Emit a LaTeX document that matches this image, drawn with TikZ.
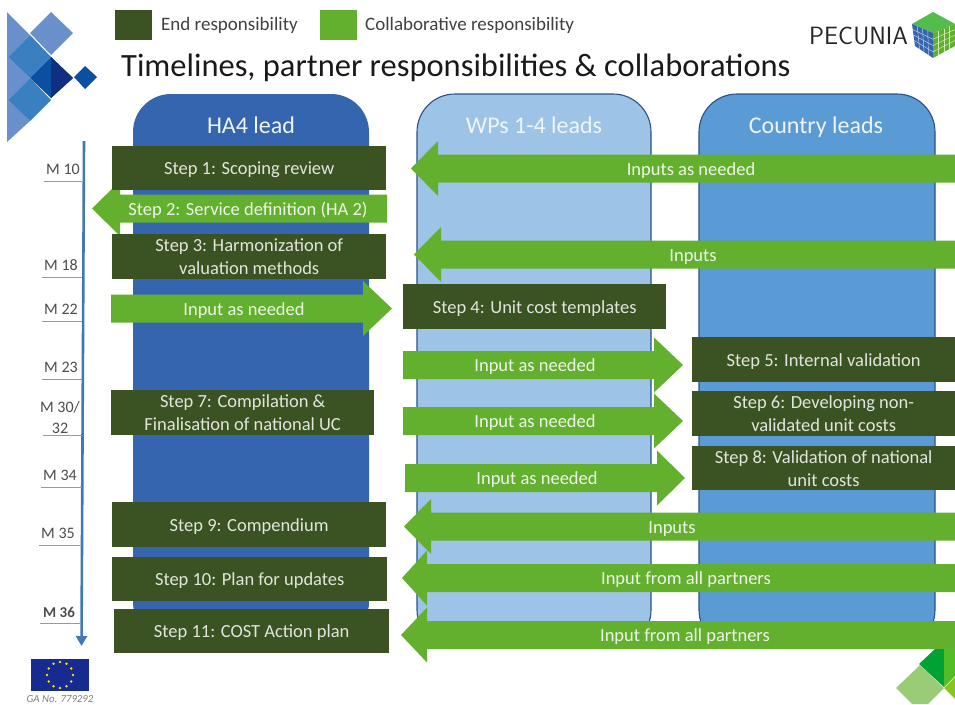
\documentclass[tikz,border=0pt]{standalone}
\usepackage{fontspec}
\setmainfont{Carlito}
\usetikzlibrary{arrows.meta,calc}
\definecolor{endg}{HTML}{3B5323}
\definecolor{colg}{HTML}{63B02E}
\definecolor{hablue}{HTML}{3465AE}
\definecolor{wpblue}{HTML}{9DC3E6}
\definecolor{cblue}{HTML}{5B9BD5}
\definecolor{tl}{HTML}{3F78B2}
\definecolor{lg1}{HTML}{6A90CC}
\definecolor{lg2}{HTML}{3A80C0}
\definecolor{lg3}{HTML}{0A4FA0}
\definecolor{lg4}{HTML}{102F80}
\tikzset{
 stepbox/.style={fill=endg,text=white!85!endg,font=\fontsize{18.5}{23}\selectfont,align=center,inner sep=0pt,anchor=north west},
 oneline/.style={text height=13pt,text depth=0pt},
 coltext/.style={text=white!90!colg,font=\fontsize{18.5}{22}\selectfont,inner sep=0pt,oneline},
 colhead/.style={text=white!90!cblue,font=\fontsize{24}{28}\selectfont,inner sep=0pt,text height=16pt,text depth=0pt},
 collab/.style={fill=colg},
 mlabel/.style={text=black!70,font=\fontsize{16}{21}\selectfont,inner sep=0pt,align=center},
 tick/.style={draw=tl!70,line width=1pt},
 legtext/.style={anchor=west,inner sep=0pt,text=black!75,font=\fontsize{19}{22}\selectfont},
}
% \stepb[opts]{name}{x1}{x2}{y1}{y2}{text}
\newcommand\stepb[7][]{\pgfmathsetmacro\boxw{#4-#3}\pgfmathsetmacro\boxh{#6-#5}%
 \node[stepbox,#1,minimum width=\boxw pt,minimum height=\boxh pt] (#2) at (#3,#5) {#7};}
% \larrow{name}{tip}{base}{right}{yc}{textx}{text}
\newcommand\larrow[7]{\fill[collab] (#2,#5) -- (#3,#5-27.5) -- (#3,#5-14) -- (#4,#5-14) -- (#4,#5+14) -- (#3,#5+14) -- (#3,#5+27.5) -- cycle;
 \node[coltext] (#1) at (#6,#5) {#7};}
% \rarrow{name}{left}{base}{tip}{yc}{textx}{text}
\newcommand\rarrow[7]{\fill[collab] (#4,#5) -- (#3,#5-27.5) -- (#3,#5-14) -- (#2,#5-14) -- (#2,#5+14) -- (#3,#5+14) -- (#3,#5+27.5) -- cycle;
 \node[coltext] (#1) at (#6,#5) {#7};}
\newcommand\mtick[4]{\node[mlabel,anchor=base] (#1) at (#2,#3) {#4};
 \coordinate (#1a) at (#2-19,#3+7); \coordinate (#1b) at (82,#3+7); \draw[tick] (#1a) -- (#1b);}
\begin{document}
\begin{tikzpicture}[x=1pt,y=-1pt]
\useasboundingbox (0,0) rectangle (955,704);
% corner logo
\fill[lg1] (7,12) -- (30,35) -- (8,57) -- (30,78) -- (8,100) -- (30,121) -- (7,142) -- cycle;
\fill[lg1] (30,33) -- (51,12) -- (73,33) -- (51,55) -- cycle;
\fill[lg2] (8,57) -- (30,35) -- (51,57) -- (30,78) -- cycle;
\fill[lg2] (8,100) -- (30,78) -- (51,100) -- (30,121) -- cycle;
\fill[lg3] (30,78) -- (51,57) -- (73,78) -- (51,98) -- cycle;
\fill[lg4] (51,57) -- (73,78) -- (51,98) -- cycle;
\fill[lg3] (74,77) -- (85,66) -- (97,77) -- (85,89) -- cycle;
% legend
\node[fill=endg,minimum width=37pt,minimum height=30pt,inner sep=0pt] (lege) at (133.5,25) {};
\node[legtext] (legetext) at (161,25) {End responsibility};
\node[fill=colg,minimum width=37pt,minimum height=30pt,inner sep=0pt] (legc) at (338,25) {};
\node[legtext] (legctext) at (365,25) {Collaborative responsibility};
% title
\node[anchor=west,inner sep=0pt,text=black!90,font=\fontsize{32.5}{36}\selectfont] (title) at (121,68) {Timelines, partner responsibilities \& collaborations};
% pecunia
\node[anchor=west,inner sep=0pt,text=black!85,font=\sffamily\fontsize{25}{30}\selectfont] (pec) at (809,36) {PECUNIA};
\fill[colg!85!cyan] (912,24) -- (933,12) -- (955,24) -- (933,33) -- cycle;
\fill[hablue] (912,24) -- (933,33) -- (933,58) -- (915,46) -- cycle;
\fill[colg] (933,33) -- (955,24) -- (955,46) -- (933,58) -- cycle;
\foreach \t in {0.25,0.5,0.75}{
 \draw[white!70!colg,line width=.5pt] ($(933,33)!\t!(955,24)$) -- ($(933,58)!\t!(955,46)$);
 \draw[white!70!colg,line width=.5pt] ($(933,33)!\t!(933,58)$) -- ($(955,24)!\t!(955,46)$);
 \draw[white!70!hablue,line width=.5pt] ($(912,24)!\t!(933,33)$) -- ($(915,46)!\t!(933,58)$);
 \draw[white!70!hablue,line width=.5pt] ($(933,33)!\t!(933,58)$) -- ($(912,24)!\t!(915,46)$);
}
% columns
\fill[hablue,rounded corners=38pt] (133,94) rectangle (369,640);
\draw[hablue!80!black,fill=wpblue,rounded corners=38pt,line width=1.1pt] (417,94) rectangle (651,648);
\draw[hablue!80!black,fill=cblue,rounded corners=38pt,line width=1.1pt] (699,94) rectangle (935,648);
\node[colhead] (h1) at (251,125) {HA4 lead};
\node[colhead] (h2) at (534,125) {WPs 1-4 leads};
\node[colhead] (h3) at (816,125) {Country leads};
% timeline
\coordinate (ts) at (84,141); \coordinate (te) at (81.5,646);
\draw[tl,line width=2.6pt,-{Triangle[length=10pt,width=11pt]}] (ts) -- (te);
\mtick{m10}{63}{174}{M 10}
\mtick{m18}{61}{270}{M 18}
\mtick{m22}{61}{314}{M 22}
\mtick{m23}{61}{372}{M 23}
\node[mlabel] (m30) at (60,417) {M 30/\\32};
\coordinate (m30a) at (43,435); \coordinate (m30b) at (82,435); \draw[tick] (m30a) -- (m30b);
\mtick{m34}{60}{480}{M 34}
\mtick{m35}{58}{538}{M 35}
\node[mlabel,anchor=base,font=\bfseries\fontsize{15}{18}\selectfont] (m36) at (59,617) {M 36};
\coordinate (m36a) at (40,623); \coordinate (m36b) at (80,623); \draw[tick] (m36a) -- (m36b);
% arrows
\larrow{a1}{411}{438}{955}{168.5}{691}{Inputs as needed}
\larrow{a2}{92}{120}{387}{208.5}{248}{Step 2: Service definition (HA 2)}
\larrow{a3}{414}{441}{955}{254.5}{693}{Inputs}
\rarrow{a4}{111}{363}{392}{308.5}{244}{Input as needed}
\rarrow{a5}{403}{654}{683}{365}{535}{Input as needed}
\rarrow{a6}{403}{654}{683}{421}{535}{Input as needed}
\rarrow{a7}{405}{657}{685}{478}{537}{Input as needed}
\larrow{a8}{404}{431}{955}{526.5}{672}{Inputs}
\larrow{a9}{402}{427}{955}{578}{686}{Input from all partners}
\larrow{a10}{401}{427}{955}{635}{685}{Input from all partners}
% steps
\stepb[oneline]{s1}{112}{386}{146}{190}{Step 1: Scoping review}
\stepb{s3}{112}{386}{234}{279}{Step 3: Harmonization of\\valuation methods}
\stepb[oneline]{s4}{403}{666}{284}{329}{Step 4: Unit cost templates}
\stepb[oneline]{s5}{692}{955}{337}{382}{Step 5: Internal validation}
\stepb{s6}{692}{955}{391}{436}{Step 6: Developing non-\\validated unit costs}
\stepb{s7}{111}{374}{390}{435}{Step 7: Compilation \&\\Finalisation of national UC}
\stepb{s8}{692}{955}{446}{490}{Step 8: Validation of national\\unit costs}
\stepb[oneline]{s9}{112}{386}{502}{547}{Step 9: Compendium}
\stepb[oneline]{s10}{112}{387}{557}{601}{Step 10: Plan for updates}
\stepb[oneline]{s11}{114}{389}{609}{653}{Step 11: COST Action plan}
% EU flag
\node[fill=hablue!60!blue!70!black,minimum width=58pt,minimum height=32pt,inner sep=0pt] (eu) at (60,675) {};
\foreach \a in {0,30,...,330}{\fill[yellow!80!orange] (60,675)+(\a:13pt) circle (1.3pt);}
\node[inner sep=0pt,text=black!50,font=\itshape\fontsize{10.8}{12}\selectfont] (ga) at (60,699) {GA No. 779292};
% corner logo bottom right
\fill[green!55!black!80!cyan] (919,664) -- (935,649) -- (944,649) -- (944,687) -- cycle;
\fill[colg!85!green] (944,649) -- (955,649) -- (955,676) -- (944,687) -- cycle;
\fill[colg!65] (896,688) -- (920,665) -- (944,688) -- (928,704) -- (912,704) -- cycle;
\fill[colg!75!yellow] (944,688) -- (955,677) -- (955,699) -- cycle;
\end{tikzpicture}
\end{document}
